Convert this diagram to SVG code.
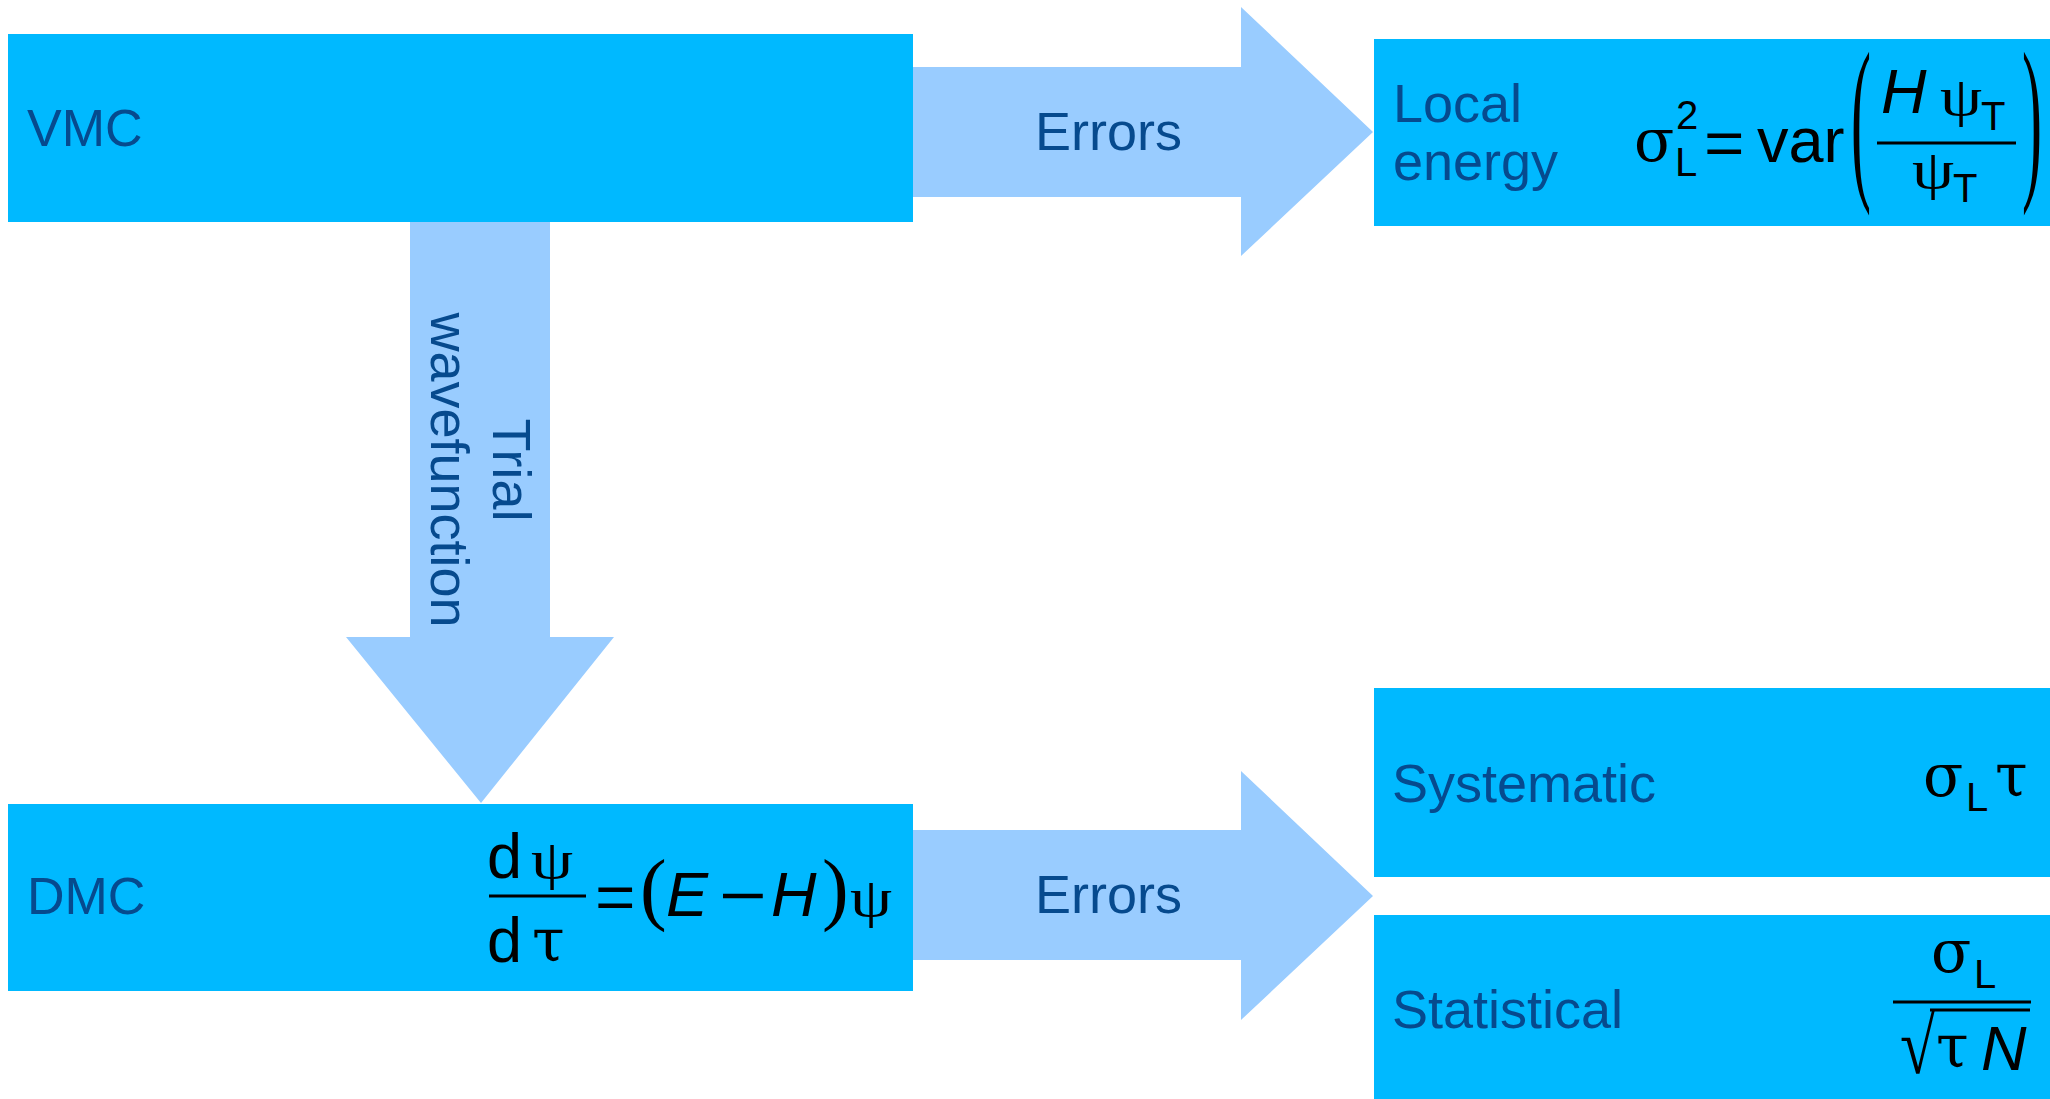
<svg xmlns="http://www.w3.org/2000/svg" width="2050" height="1099" viewBox="0 0 2050 1099">
<style>
.box{fill:#00B9FF}
.arr{fill:#99CCFF}
.lbl{font-family:"Liberation Sans",Arial,sans-serif;font-size:54px;fill:#064A8E}
.lbs{font-family:"Liberation Sans",Arial,sans-serif;font-size:52px;fill:#064A8E}
.m{font-family:"Liberation Sans",Arial,sans-serif;font-size:63px;fill:#000}
.mi{font-family:"Liberation Sans",Arial,sans-serif;font-size:63px;font-style:italic;fill:#000}
.g{font-family:"DejaVu Serif","Liberation Serif",serif;font-size:59px;fill:#000}
.psi{font-family:"Liberation Serif","Times New Roman",serif;font-size:64px;fill:#000}
.s{font-family:"Liberation Sans",Arial,sans-serif;font-size:40px;fill:#000}
.p{font-family:"Liberation Serif","Times New Roman",serif;fill:#000}
.fl{stroke:#000;stroke-width:3}
</style>
<rect width="2050" height="1099" fill="#fff"/>
<g id="connectors">
<g id="arrow-vmc-local">
<polygon class="arr" points="913,67 1241,67 1241,7 1373,132 1241,256 1241,197 913,197"/>
<text class="lbl" x="1035" y="150">Errors</text>
</g>
<g id="arrow-dmc-errors">
<polygon class="arr" points="913,830 1241,830 1241,771 1373,896 1241,1020 1241,960 913,960"/>
<text class="lbl" x="1035" y="913">Errors</text>
</g>
<g id="arrow-vmc-dmc">
<polygon class="arr" points="410,222 550,222 550,637 614,637 481,803 346,637 410,637"/>
<g transform="translate(493,470) rotate(90)">
<text class="lbl" x="0" y="0" text-anchor="middle">Trial</text>
<text class="lbl" x="0" y="62" text-anchor="middle">wavefunction</text>
</g>
</g>
</g>
<g id="vmc">
<rect class="box" x="8" y="34" width="905" height="188"/>
<text class="lbs" x="27" y="146">VMC</text>
</g>
<g id="dmc">
<rect class="box" x="8" y="804" width="905" height="187"/>
<text class="lbs" x="27" y="914">DMC</text>
<text class="m" x="487" y="878">d</text>
<text class="psi" transform="translate(531,878) scale(1.05,0.87)">ψ</text>
<line class="fl" x1="489" y1="896" x2="586" y2="896"/>
<text class="m" x="487" y="962">d</text>
<text class="g" x="532" y="961">τ</text>
<text class="m" transform="translate(595,919) scale(1.1,1)">=</text>
<text class="p" x="640" y="915" font-size="80">(</text>
<text class="mi" x="666" y="916">E</text>
<text class="m" transform="translate(719,917) scale(1.3,1)">−</text>
<text class="mi" x="771" y="916">H</text>
<text class="p" x="822" y="915" font-size="80">)</text>
<text class="psi" transform="translate(850,916) scale(1.05,0.87)">ψ</text>
</g>
<g id="local-energy">
<rect class="box" x="1374" y="39" width="676" height="187"/>
<text class="lbl" x="1393" y="122">Local</text>
<text class="lbl" x="1393" y="180">energy</text>
<text class="g" x="1634" y="161">σ</text>
<text class="s" x="1675" y="176">L</text>
<text class="s" x="1676" y="129">2</text>
<text class="m" transform="translate(1704,165) scale(1.1,1)">=</text>
<text class="m" x="1757" y="162">var</text>
<text class="p" font-size="60" transform="translate(1851,177) scale(1,3)">(</text>
<text class="mi" x="1881" y="113">H</text>
<text class="psi" transform="translate(1940,115) scale(1.05,0.87)">ψ</text>
<text class="s" x="1981" y="130">T</text>
<line class="fl" x1="1877" y1="143" x2="2016" y2="143"/>
<text class="psi" transform="translate(1912,188) scale(1.05,0.87)">ψ</text>
<text class="s" x="1953" y="202">T</text>
<text class="p" font-size="60" transform="translate(2022,177) scale(1,3)">)</text>
</g>
<g id="systematic">
<rect class="box" x="1374" y="688" width="676" height="189"/>
<text class="lbl" x="1392" y="802">Systematic</text>
<text class="g" x="1923" y="796">σ</text>
<text class="s" x="1966" y="811">L</text>
<text class="g" x="1995" y="796">τ</text>
</g>
<g id="statistical">
<rect class="box" x="1374" y="915" width="676" height="184"/>
<text class="lbl" x="1392" y="1028">Statistical</text>
<text class="g" x="1931" y="972">σ</text>
<text class="s" x="1974" y="988">L</text>
<line class="fl" x1="1893" y1="1002" x2="2031" y2="1002"/>
<text class="p" font-size="81" transform="translate(1900,1073) scale(0.79,1)">√</text>
<line x1="1930" y1="1010" x2="2030" y2="1010" stroke="#000" stroke-width="3"/>
<text class="g" x="1936" y="1067">τ</text>
<text class="mi" x="1981" y="1070">N</text>
</g>
</svg>
